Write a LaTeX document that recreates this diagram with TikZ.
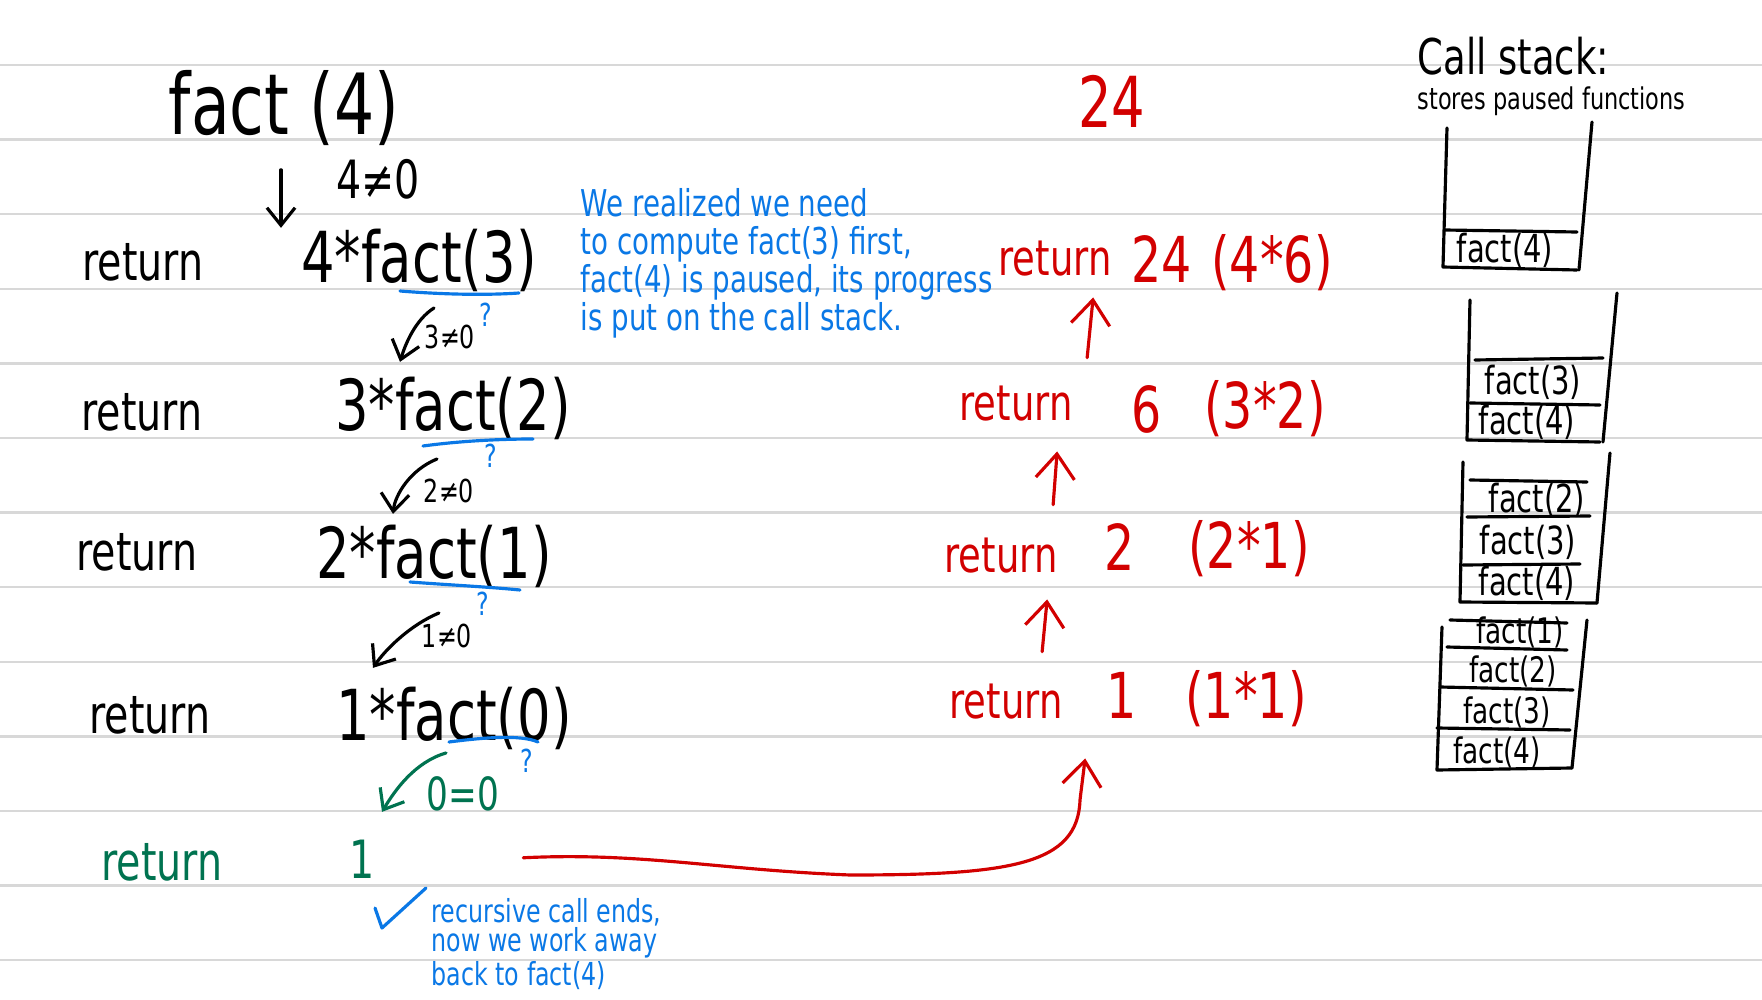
\documentclass[tikz,border=0pt]{standalone}
\usepackage{fontspec}
\setmainfont[FakeStretch=0.75]{DejaVu Sans}
\usetikzlibrary{arrows.meta,calc}
\definecolor{penBlue}{RGB}{10,120,230}
\definecolor{penRed}{RGB}{210,0,0}
\definecolor{penGreen}{RGB}{0,115,80}
\definecolor{ruleGray}{RGB}{216,216,216}

\begin{document}
\begin{tikzpicture}[x=0.01cm, y=-0.01cm,
  every node/.style={inner sep=0pt, anchor=base},
  pen/.style={line width=0.9pt, line cap=round, line join=round},
  callarrow/.style={pen, -{Straight Barb[length=5pt,width=8pt]}},
  backarrow/.style={pen, penRed, -{Straight Barb[length=7pt,width=11pt]}},
  bigtxt/.style={font=\fontsize{24}{28}\selectfont},
  ret/.style={font=\fontsize{15}{18}\selectfont},
  expr/.style={font=\fontsize{20}{24}\selectfont},
  cond/.style={font=\fontsize{9}{11}\selectfont},
  qmark/.style={penBlue, font=\fontsize{9}{11}\selectfont},
  note/.style={penBlue, align=left, anchor=north west},
  redret/.style={penRed, font=\fontsize{14}{17}\selectfont},
  redval/.style={penRed, font=\fontsize{18}{22}\selectfont},
  cell/.style={font=\fontsize{11}{13}\selectfont},
  smallcell/.style={font=\fontsize{10}{12}\selectfont},
  rule/.style={ruleGray, line width=0.7pt}
]
  \fill[white] (0,0) rectangle (1762,1000);
  \useasboundingbox (0,0) rectangle (1762,1000);
  \foreach \k in {0,...,12}
    \draw[rule] (0,{65+74.6*\k}) -- (1762,{65+74.6*\k});

  % calls going down
  \node[bigtxt]                    (fact4) at (284,134) {fact (4)};
  \node[font=\fontsize{15}{17}\selectfont] (cond4) at (378,199) {4≠0};
  \node[ret]                       (ret1)  at (143,281) {return};
  \node[expr]                      (exp1)  at (419,282) {4*fact(3)};
  \node[ret]                       (ret2)  at (142,430) {return};
  \node[expr]                      (exp2)  at (453,430) {3*fact(2)};
  \node[ret]                       (ret3)  at (137,570) {return};
  \node[expr]                      (exp3)  at (434,578) {2*fact(1)};
  \node[ret]                       (ret4)  at (150,733) {return};
  \node[expr]                      (exp4)  at (454,740) {1*fact(0)};
  \node[ret, penGreen]             (retg)  at (162,880) {return};
  \node[ret, penGreen]             (oneg)  at (362,878) {1};

  \node[cond]                      (cond3) at (450,348) {3≠0};
  \node[cond]                      (cond2) at (449,502) {2≠0};
  \node[cond]                      (cond1) at (447,647) {1≠0};
  \node[font=\fontsize{13}{15}\selectfont, penGreen] (cond0) at (463,810) {0=0};
  \node[qmark]                     (q1)    at (486,327) {?};
  \node[qmark]                     (q2)    at (491,467) {?};
  \node[qmark]                     (q3)    at (483,615) {?};
  \node[qmark]                     (q4)    at (527,772) {?};

  \draw[pen, penBlue] (400,291) .. controls (450,295) and (490,295) .. (519,293);
  \draw[pen, penBlue] (423,446) .. controls (460,441) and (500,439) .. (533,439);
  \draw[pen, penBlue] (410,582) .. controls (450,585) and (490,587) .. (520,590);
  \draw[pen, penBlue] (449,742) .. controls (480,738) and (520,734) .. (538,742);

  \coordinate (down0) at ($(fact4.south)+(-3,24)$);
  \draw[callarrow] (down0) -- (down0 |- exp1.north);
  \draw[callarrow] ($(exp1.south)+(15,16)$) .. controls (415,320) and (405,345) .. ($(exp2.north)+(-53,-14)$);
  \draw[callarrow] ($(exp2.south)+(-16,19)$) .. controls (410,470) and (395,495) .. ($(exp3.north)+(-41,-10)$);
  \draw[callarrow] ($(exp3.south)+(5,25)$) .. controls (410,625) and (385,650) .. ($(exp4.north)+(-81,-18)$);
  \draw[callarrow, penGreen] ($(exp4.south)+(-8,3)$) .. controls (415,762) and (395,790) .. ($(oneg.north)+(20,-27)$);

  % values coming back
  \node[penRed, font=\fontsize{20}{24}\selectfont] (total) at (1112,127) {24};
  \node[redret] (rr1) at (1055,275) {return};
  \node[redval] (rv1) at (1162,282) {24};
  \node[redval] (rx1) at (1272,282) {(4*6)};
  \node[redret] (rr2) at (1016,420) {return};
  \node[redval] (rv2) at (1147,432) {6};
  \node[redval] (rx2) at (1265,428) {(3*2)};
  \node[redret] (rr3) at (1001,572) {return};
  \node[redval] (rv3) at (1120,570) {2};
  \node[redval] (rx3) at (1249,568) {(2*1)};
  \node[redret] (rr4) at (1006,718) {return};
  \node[redval] (rv4) at (1122,718) {1};
  \node[redval] (rx4) at (1246,718) {(1*1)};

  \draw[backarrow] ($(rr2.north east)+(14,-27)$) -- ($(rr1.south east)+(-19,21)$);
  \draw[backarrow] ($(rr3.north east)+(-5,-32)$) -- ($(rr2.south east)+(-16,30)$);
  \draw[backarrow] ($(rr4.north east)+(-21,-31)$) -- ($(rr3.south east)+(-11,26)$);
  \draw[backarrow] ($(oneg.east)+(148,-1)$) .. controls (640,852) and (720,870) .. (850,875)
    .. controls (1010,875) and (1078,865) .. (1080,800) -- ($(rr4.south east)+(22,39)$);

  \node[note, font=\fontsize{10.5}{10.8}\selectfont] (pausenote) at (580,188)
    {We realized we need\\to compute fact(3) first,\\fact(4) is paused, its progress\\is put on the call stack.};
  \draw[pen, penBlue] (375,908) -- (382,928) -- (426,888);
  \node[note, font=\fontsize{9}{8.2}\selectfont] (endnote) at (431,898)
    {recursive call ends,\\now we work away\\back to fact(4)};

  % call stack
  \node[font=\fontsize{14}{16}\selectfont, anchor=base west] (stacktitle) at (1417,74) {Call stack:};
  \node[font=\fontsize{8.5}{10}\selectfont, anchor=base west] (stacksub) at (1417,110) {stores paused functions};

  \draw[pen] (1447,128) -- (1443,267) -- (1577,270);
  \draw[pen] (1592,122) -- (1579,270);
  \draw[pen] (1445,230) -- (1577,232);
  \node[cell] (s1a) at (1505,262) {fact(4)};

  \draw[pen] (1470,300) -- (1467,440) -- (1600,442);
  \draw[pen] (1617,293) -- (1603,442);
  \draw[pen] (1475,360) -- (1603,358);
  \draw[pen] (1470,403) -- (1600,405);
  \node[cell] (s2a) at (1533,394) {fact(3)};
  \node[cell] (s2b) at (1527,434) {fact(4)};

  \draw[pen] (1463,462) -- (1460,602) -- (1597,603);
  \draw[pen] (1610,453) -- (1597,603);
  \draw[pen] (1470,480) -- (1587,482);
  \draw[pen] (1467,517) -- (1590,516);
  \draw[pen] (1463,565) -- (1580,564);
  \node[cell] (s3a) at (1537,512) {fact(2)};
  \node[cell] (s3b) at (1528,554) {fact(3)};
  \node[cell] (s3c) at (1527,595) {fact(4)};

  \draw[pen] (1442,627) -- (1437,770) -- (1572,768);
  \draw[pen] (1587,620) -- (1572,768);
  \draw[pen] (1450,620) -- (1567,623);
  \draw[pen] (1447,647) -- (1567,650);
  \draw[pen] (1440,687) -- (1573,690);
  \draw[pen] (1437,728) -- (1570,730);
  \node[smallcell] (s4a) at (1520,643) {fact(1)};
  \node[smallcell] (s4b) at (1513,682) {fact(2)};
  \node[smallcell] (s4c) at (1507,723) {fact(3)};
  \node[smallcell] (s4d) at (1497,763) {fact(4)};
\end{tikzpicture}
\end{document}
